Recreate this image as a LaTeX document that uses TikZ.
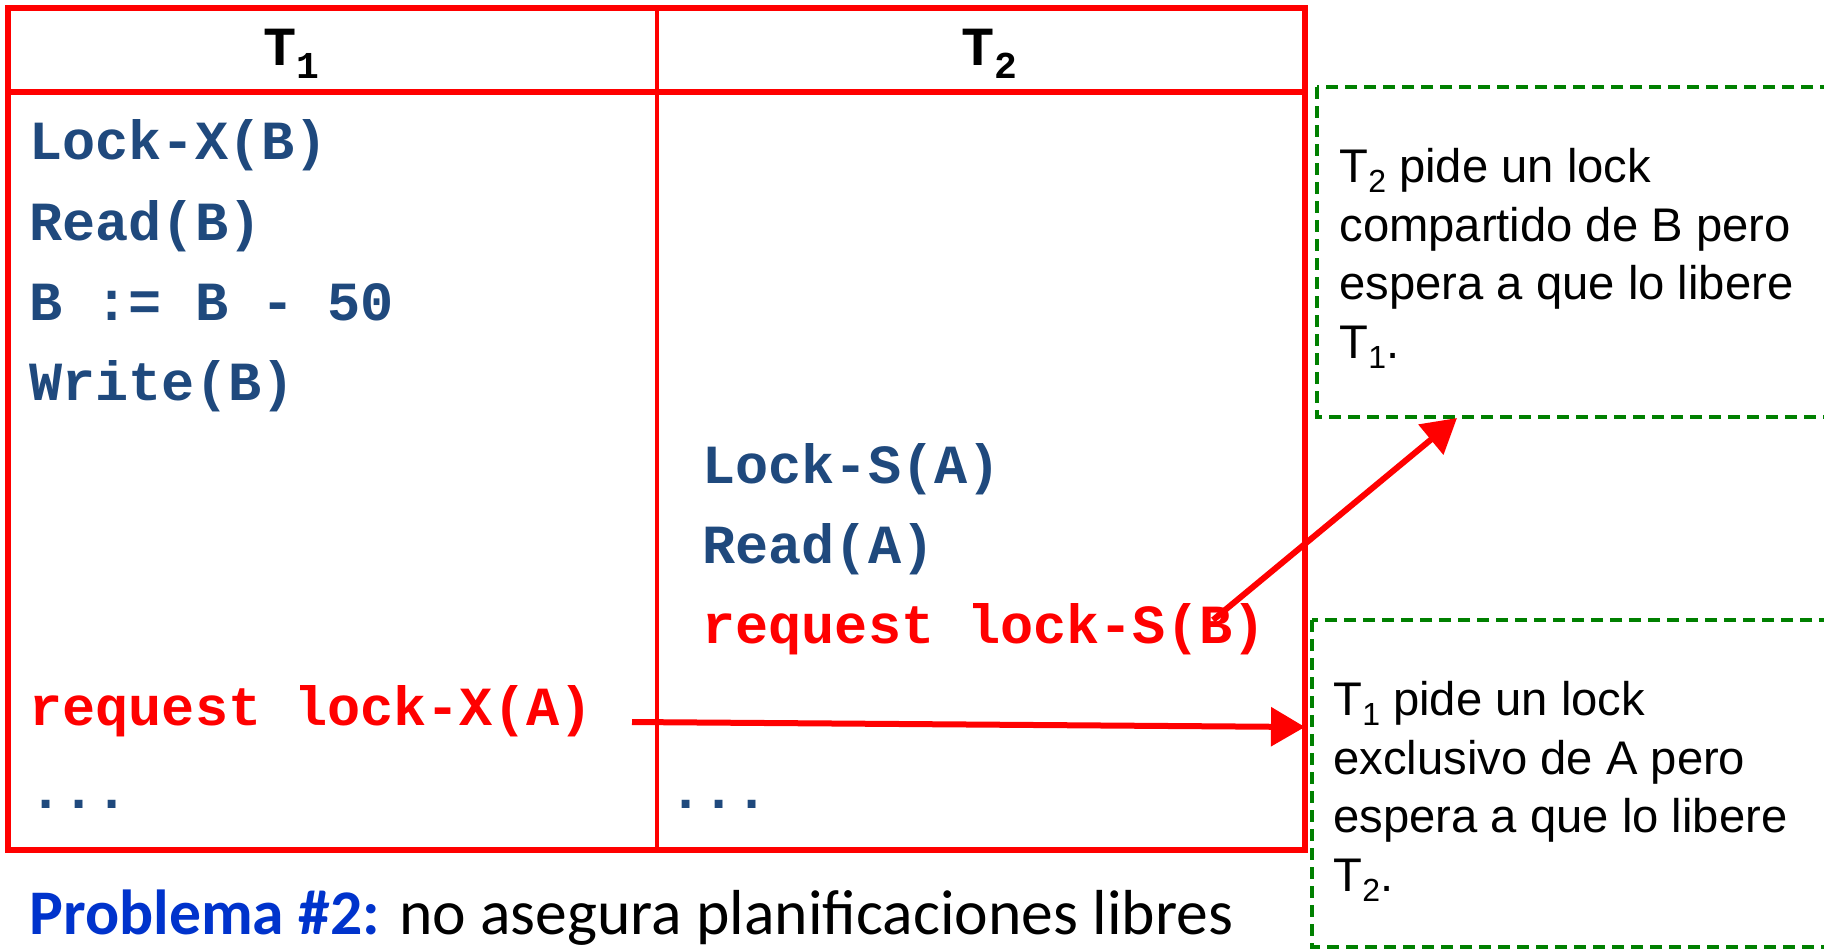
\documentclass[tikz,border=0pt]{standalone}
\usepackage{fontspec}
\setmainfont{Liberation Sans}
\newfontfamily\codefont{Liberation Mono}
\newfontfamily\titlefont{Carlito}
\usetikzlibrary{arrows.meta}
\definecolor{codeblue}{RGB}{31,73,125}
\definecolor{tblred}{RGB}{255,0,0}
\definecolor{boxgreen}{RGB}{0,128,0}
\definecolor{probblue}{RGB}{0,51,204}
\newcommand\hdrsub[1]{\raisebox{-6.5pt}{\fontsize{19}{19}\selectfont #1}}
\newcommand\txtsub[1]{\raisebox{-5pt}{\fontsize{16}{16}\selectfont #1}}
\begin{document}
\begin{tikzpicture}[x=0.5pt,y=-0.5pt,
  code/.style={font=\codefont\bfseries\fontsize{27.6}{30}\selectfont, anchor=base west, inner sep=0pt, text=codeblue},
  codered/.style={code, text=tblred},
  hdr/.style={font=\codefont\bfseries\fontsize{27.6}{30}\selectfont, anchor=base, inner sep=0pt, text=black},
  frame/.style={draw=tblred, line width=2.8pt},
  innerline/.style={draw=tblred, line width=2.2pt},
  callout/.style={draw=boxgreen, line width=1.6pt, dash pattern=on 6pt off 3.5pt},
  callouttext/.style={font=\fontsize{23.6}{29.2}\selectfont, anchor=base west, inner sep=0pt, align=left, text=black},
  bigarrow/.style={draw=tblred, line width=3pt, -{Triangle[length=17pt,width=19pt]}}
]
\clip (0,0) rectangle (1824,949);
\fill[white] (0,0) rectangle (1824,949);

% table
\draw[innerline] (657,8) -- (657,850);
\draw[frame] (8,92) -- (1305,92);
\draw[frame] (8,8) rectangle (1305,850);

% headers
\node[hdr] (h1) at (291,65) {T\hdrsub{1}};
\node[hdr] (h2) at (989,65) {T\hdrsub{2}};

% T1 column
\node[code] (l1) at (29,159) {Lock-X(B)};
\node[code] (l2) at (29,240) {Read(B)};
\node[code] (l3) at (29,320) {B := B - 50};
\node[code] (l4) at (29,400) {Write(B)};
\node[codered] (l5) at (29,725) {request lock-X(A)};
\node[code] (l6) at (29,808) {...};

% T2 column
\node[code] (r1) at (702,483) {Lock-S(A)};
\node[code] (r2) at (702,563) {Read(A)};
\node[codered] (r3) at (702,643) {request lock-S(B)};
\node[code] (r4) at (669,808) {...};

% callouts
\draw[callout] (1317,87) rectangle (1900,417);
\draw[callout] (1312,620) rectangle (1900,947);
\node[callouttext] (c1) at (1339,358) {T\txtsub{2} pide un lock\\compartido de B pero\\espera a que lo libere\\T\txtsub{1}.};
\node[callouttext] (c2) at (1333,891) {T\txtsub{1} pide un lock\\exclusivo de A pero\\espera a que lo libere\\T\txtsub{2}.};

% arrows
\coordinate (a1s) at (1213,620);
\coordinate (a1e) at (1457,418);
\coordinate (a2s) at (632,722);
\coordinate (a2e) at (1305,727);
\draw[bigarrow] (a1s) -- (a1e);
\draw[bigarrow] (a2s) -- (a2e);

% bottom text
\node[anchor=base west, inner sep=0pt] (prob) at (29,934) {\titlefont\fontsize{31.8}{36}\selectfont\textcolor{probblue}{\bfseries Problema \#2:} no asegura planificaciones libres};
\end{tikzpicture}
\end{document}
